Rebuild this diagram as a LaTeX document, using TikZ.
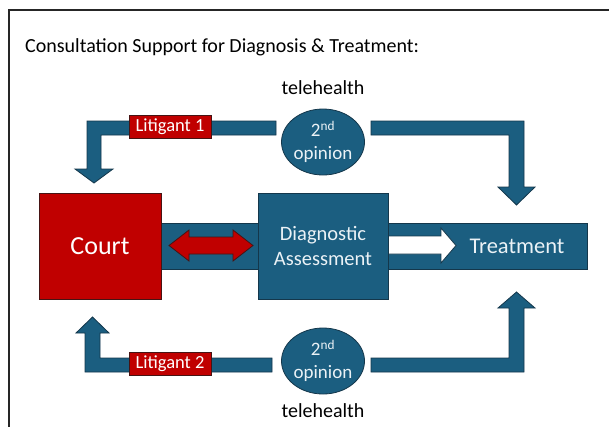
\documentclass[tikz,border=0pt]{standalone}
\usepackage{fontspec}
\setmainfont{Carlito}
\usetikzlibrary{shapes.geometric}
\definecolor{bblue}{RGB}{27,94,128}
\definecolor{bline}{RGB}{20,55,75}
\definecolor{rred}{RGB}{192,0,0}
\definecolor{rline}{RGB}{70,20,20}
\definecolor{ltxt}{RGB}{235,242,246}
\tikzset{
  blk/.style={fill=bblue,draw=bline,line width=0.8pt,line join=miter},
  redblk/.style={fill=rred,draw=rline,line width=0.8pt},
  lit/.style={redblk,minimum width=82pt,minimum height=23pt,inner sep=0pt,text=white,font=\fontsize{18.5}{20}\selectfont},
  opin/.style={blk,ellipse,minimum width=82pt,minimum height=66pt,inner sep=0pt,text=ltxt,align=center,font=\fontsize{19}{23}\selectfont},
  plain/.style={inner sep=0pt,text=black},
}
\begin{document}
\begin{tikzpicture}[x=1pt,y=-1pt]
\useasboundingbox (0,0) rectangle (609,426);
\fill[white] (0,0) rectangle (609,426);
% frame
\draw[line width=1.4pt,black!85] (612,10) -- (9,10) -- (9,430);
% title
\node[plain,anchor=west,font=\fontsize{20}{24}\selectfont] (title) at (25,47) {Consultation Support for Diagnosis \& Treatment:};
\node[plain,font=\fontsize{20}{24}\selectfont] (tele1) at (323,88) {telehealth};
\node[plain,font=\fontsize{20}{24}\selectfont] (tele2) at (323,411) {telehealth};
% bent arrows
\draw[blk] (276,121) -- (87,121) -- (87,169) -- (75,169) -- (94,183) -- (113,169) -- (101,169) -- (101,135) -- (276,135) -- cycle;
\draw[blk] (371,121) -- (524,121) -- (524,187) -- (535,187) -- (516.5,205) -- (498,187) -- (509,187) -- (509,135) -- (371,135) -- cycle;
\draw[blk] (272,358) -- (100,358) -- (100,333) -- (109,333) -- (92.5,317) -- (76,333) -- (85,333) -- (85,372) -- (272,372) -- cycle;
\draw[blk] (371,358) -- (509,358) -- (509,308) -- (498,308) -- (516.5,292) -- (535,308) -- (524,308) -- (524,372) -- (371,372) -- cycle;
% circles
\node[opin] (op1) at (323,142) {2\textsuperscript{nd}\\opinion};
\node[opin] (op2) at (323,361) {2\textsuperscript{nd}\\opinion};
% litigant labels
\node[lit] (lit1) at (170,127) {Litigant 1};
\node[lit] (lit2) at (170,364) {Litigant 2};
% middle band
\draw[blk] (150,223) rectangle (587,269);
% white arrow
\draw[fill=white,draw=bline,line width=0.8pt] (380,236) -- (441,236) -- (441,228) -- (456,245.5) -- (441,263) -- (441,254) -- (380,254) -- cycle;
% red double arrow
\draw[redblk,draw=rline] (169,245.5) -- (189,230) -- (189,237) -- (233,237) -- (233,230) -- (253,245.5) -- (233,261) -- (233,254) -- (189,254) -- (189,261) -- cycle;
% boxes
\node[redblk,minimum width=122pt,minimum height=106pt,inner sep=0pt,text=white,font=\fontsize{26}{30}\selectfont] (court) at (100,246) {Court};
\node[blk,minimum width=130pt,minimum height=106pt,inner sep=0pt,text=ltxt,align=center,font=\fontsize{20.5}{25}\selectfont] (diag) at (323,246) {Diagnostic\\Assessment};
\node[plain,text=ltxt,font=\fontsize{22.5}{26}\selectfont] (treat) at (517,246) {Treatment};
\end{tikzpicture}
\end{document}
